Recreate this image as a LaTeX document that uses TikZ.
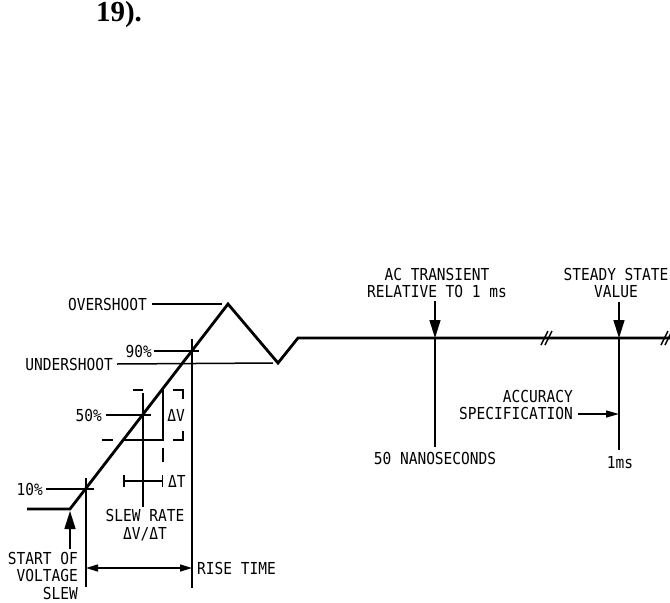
\documentclass[tikz,border=0pt]{standalone}
\usepackage{fontspec}
\newfontfamily\plotfont[FakeStretch=0.88]{DejaVu Sans Mono}
\newfontfamily\pagefont{Liberation Serif}
\usetikzlibrary{arrows.meta}

\begin{document}
\begin{tikzpicture}[x=1pt, y=-1pt,
        lbl/.style={font=\plotfont\fontsize{16.5}{17.5}\selectfont, inner sep=0pt},
        wave/.style={line width=2.8pt, line join=miter},
        lead/.style={line width=1.5pt},
        arr/.style={lead, -{Triangle[length=13pt, width=7pt]}},
        bigarr/.style={lead, -{Triangle[length=18pt, width=11pt]}}
    ]
    \useasboundingbox (0,0) rectangle (670,603);

    \node[font=\pagefont\bfseries\fontsize{29}{30}\selectfont, inner sep=0pt] (pg) at (119,15) {19).};

    % waveform
    \coordinate (s0) at (27,509);
    \coordinate (s1) at (70,509);
    \coordinate (pk) at (228,304);
    \coordinate (un) at (278,363);
    \coordinate (r1) at (298,338);
    \coordinate (fin) at (672,338);
    \coordinate (p10) at (86,489);
    \coordinate (p50) at (143,415);
    \coordinate (p90) at (192,351);
    \coordinate (ac) at (435,338);
    \coordinate (ss) at (619,338);

    \draw[wave] (s0) -- (s1) -- (pk) -- (un) -- (r1) -- (fin);
    \foreach \bx in {547, 667} {
        \draw[lead] (\bx-6,345) -- (\bx+1,331);
        \draw[lead] (\bx-2,345) -- (\bx+5,331);
    }

    % level labels
    \node[lbl, anchor=east] (ovs) at (147,304) {OVERSHOOT};
    \node[lbl, anchor=east] (uns) at (113,364) {UNDERSHOOT};
    \node[lbl, anchor=east] (l90) at (152,351) {90\%};
    \node[lbl, anchor=east] (l50) at (102,415) {50\%};
    \node[lbl, anchor=east] (l10) at (43,489) {10\%};

    \draw[lead] ([xshift=5pt]ovs.east) -- ([xshift=-6pt]pk);
    \draw[lead] ([xshift=4pt]uns.east) -- ([xshift=-5pt]un);
    \draw[lead] ([xshift=2pt]l90.east) -- ([xshift=7pt]p90);
    \draw[lead] ([xshift=4pt]l50.east) -- ([xshift=8pt]p50);
    \draw[lead] ([xshift=3pt]l10.east) -- ([xshift=8pt]p10);

    \draw[lead] (p10) ++(0,-11) -- ++(0,109);
    \draw[lead] (p90) ++(0,-12) -- ++(0,249);
    \draw[lead] (p50) ++(0,-22) -- ++(0,114);

    % slew rate triangle
    \draw[lead] (163,388) -- (163,440) -- (123,440);
    \draw[lead] (133,390) -- (143,390);
    \draw[lead] (173,390) -- (183,390) -- (183,399);
    \draw[lead] (183,431) -- (183,440) -- (173,440);
    \draw[lead] (102,440) -- (113,440);
    \draw[lead] (163,448) -- (163,462);
    \node[lbl] (dv) at (176,415) {ΔV};

    \draw[lead, {Bar[width=12pt]}-{Bar[width=12pt]}] (123,481) -- (163,481);
    \node[lbl, anchor=west] (dt) at (168,481) {ΔT};
    \node[lbl, align=center] (slew) at (145,525) {SLEW RATE\\ΔV/ΔT};

    \node[lbl, align=right, anchor=north east] (start) at (78,552) {START OF\\VOLTAGE\\SLEW};
    \draw[bigarr] (start.north east -| s1) ++(0,-3) -- ([yshift=-2pt]s1);

    \node[lbl, anchor=west] (rise) at (197,568) {RISE TIME};
    \draw[lead, {Triangle[length=12pt, width=7pt]}-{Triangle[length=12pt, width=7pt]}]
        (p10 |- rise.west) -- (p90 |- rise.west);

    % time markers
    \node[lbl, align=center, anchor=south] (actr) at (437,298) {AC TRANSIENT\\RELATIVE TO 1 ms};
    \draw[bigarr, shorten <=3pt] (actr.south -| ac) -- (ac);
    \draw[lead] (ac) -- ++(0,109);
    \node[lbl] (ns) at (435,458) {50 NANOSECONDS};

    \node[lbl, align=center, anchor=south] (sst) at (616,298) {STEADY STATE\\VALUE};
    \draw[bigarr, shorten <=4pt] (sst.south -| ss) -- (ss);
    \draw[lead] (ss) -- ++(0,112);
    \node[lbl] (ms) at (620,463) {1ms};

    \node[lbl, align=right, anchor=east] (acc) at (573,405) {ACCURACY\\SPECIFICATION};
    \coordinate (sp) at (619,414);
    \draw[arr] (sp -| acc.east) ++(5,0) -- (sp);

\end{tikzpicture}
\end{document}
